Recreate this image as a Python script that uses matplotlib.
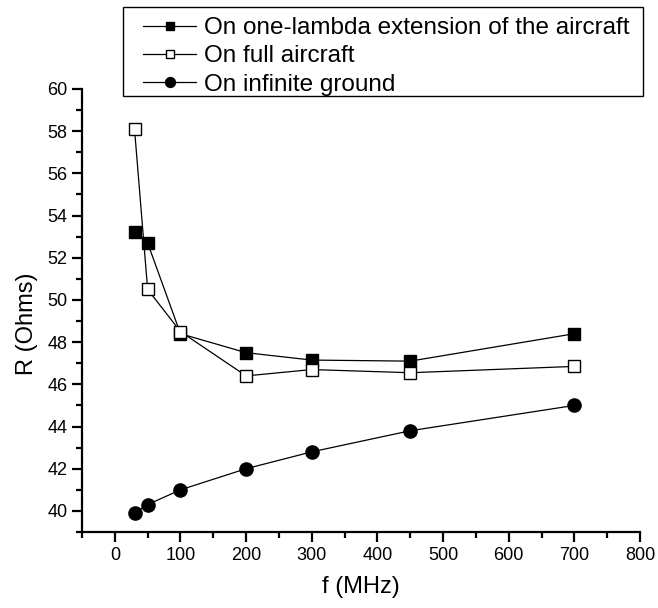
import matplotlib
matplotlib.use("Agg")
import matplotlib.pyplot as plt
from matplotlib.ticker import MultipleLocator
from matplotlib.patches import Rectangle

plt.rcParams['font.family'] = ['Liberation Sans', 'DejaVu Sans']

# frequency points (MHz)
freq = [30, 50, 100, 200, 300, 450, 700]
# input resistance for each mounting case
r_extension = [53.2, 52.7, 48.4, 47.5, 47.15, 47.1, 48.4]
r_full = [58.1, 50.5, 48.5, 46.4, 46.7, 46.55, 46.85]
r_ground = [39.9, 40.3, 41.0, 42.0, 42.8, 43.8, 45.0]

labels = ["On one-lambda extension of the aircraft",
          "On full aircraft",
          "On infinite ground"]

W, H = 658, 608
fig = plt.figure(figsize=(W / 100, H / 100), dpi=100)
ax = fig.add_axes([82 / W, 1 - 532 / H, 558 / W, 443 / H])

ax.plot(freq, r_extension, color='black', lw=0.9, marker='s', ms=8.5,
        mfc='black', mec='black', label=labels[0])
ax.plot(freq, r_full, color='black', lw=0.9, marker='s', ms=8.5,
        mfc='white', mec='black', mew=1.0, label=labels[1])
ax.plot(freq, r_ground, color='black', lw=0.9, marker='o', ms=9.5,
        mfc='black', mec='black', label=labels[2])

ax.set_xlim(-50, 800)
ax.set_ylim(39, 60)
ax.set_xticks(range(0, 801, 100))
ax.xaxis.set_minor_locator(MultipleLocator(50))
ax.set_yticks(range(40, 61, 2))
ax.yaxis.set_minor_locator(MultipleLocator(1))

for s in ['top', 'right']:
    ax.spines[s].set_visible(False)
for s in ['left', 'bottom']:
    ax.spines[s].set_linewidth(1.6)

ax.tick_params(which='major', direction='out', length=7, width=1.6, labelsize=13)
ax.tick_params(which='minor', direction='out', length=4, width=1.6)

ax.set_xlabel("f (MHz)", fontsize=17)
ax.set_ylabel("R (Ohms)", fontsize=17)
ax.xaxis.set_label_coords(0.5, -0.10)
ax.yaxis.set_label_coords(-0.078, 0.47)

# legend without its own frame; the box is drawn separately
leg = fig.legend(loc='upper left', bbox_to_anchor=(143 / W, 1 - 17 / H),
                 fontsize=17.5, frameon=False, markerscale=0.75,
                 handlelength=2.2, handletextpad=0.3, borderpad=0,
                 labelspacing=0.26, borderaxespad=0)
fig.patches.append(Rectangle((123 / W, 1 - 96 / H), 520 / W, 89 / H,
                             transform=fig.transFigure, fill=False,
                             edgecolor='black', lw=1.0))

fig.savefig("out.png", dpi=100)
